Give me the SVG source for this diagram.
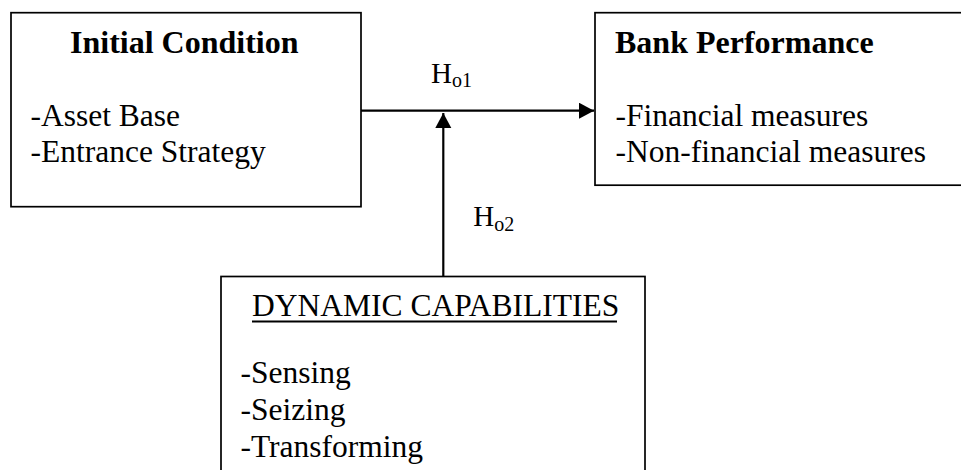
<svg xmlns="http://www.w3.org/2000/svg" width="961" height="470" viewBox="0 0 961 470">
<style>
.box{fill:#fff;stroke:#000;stroke-width:1.7}
.t{font-family:"Liberation Serif","Times New Roman",serif;fill:#000;font-size:31.5px}
.b{font-weight:bold;font-size:32px}
.h{font-size:29px}
.conn{stroke:#000;stroke-width:2.2;fill:none}
</style>
<defs>
<marker id="ah" markerWidth="18" markerHeight="18" refX="15" refY="8" orient="auto" markerUnits="userSpaceOnUse">
<path d="M0,0 L15,8 L0,16 Z" fill="#000"/>
</marker>
</defs>
<rect width="961" height="470" fill="#fff"/>
<g id="initial-condition">
<rect class="box" x="11" y="12.7" width="350" height="194"/>
<text class="t b" x="70" y="53">Initial Condition</text>
<text class="t" x="30.5" y="126">-Asset Base</text>
<text class="t" x="30.5" y="162">-Entrance Strategy</text>
</g>
<g id="bank-performance">
<rect class="box" x="595" y="12.7" width="380" height="172.5"/>
<text class="t b" x="615" y="53">Bank Performance</text>
<text class="t" x="615.5" y="126">-Financial measures</text>
<text class="t" x="615.5" y="162">-Non-financial measures</text>
</g>
<g id="dynamic-capabilities">
<rect class="box" x="221" y="276.5" width="424" height="220"/>
<text class="t" x="252" y="316">DYNAMIC CAPABILITIES</text>
<line x1="252" y1="321.5" x2="617" y2="321.5" stroke="#000" stroke-width="1.8"/>
<text class="t" x="240.5" y="383.3">-Sensing</text>
<text class="t" x="240.5" y="420">-Seizing</text>
<text class="t" x="240.5" y="456.7">-Transforming</text>
</g>
<g id="connectors">
<line class="conn" x1="361" y1="110.7" x2="594" y2="110.7" marker-end="url(#ah)"/>
<line class="conn" x1="443.3" y1="276.5" x2="443.3" y2="113" marker-end="url(#ah)"/>
<text class="t h" x="431" y="83.3">H<tspan font-size="20" dy="4">o1</tspan></text>
<text class="t h" x="473.3" y="226">H<tspan font-size="20" dy="4.5">o2</tspan></text>
</g>
</svg>
